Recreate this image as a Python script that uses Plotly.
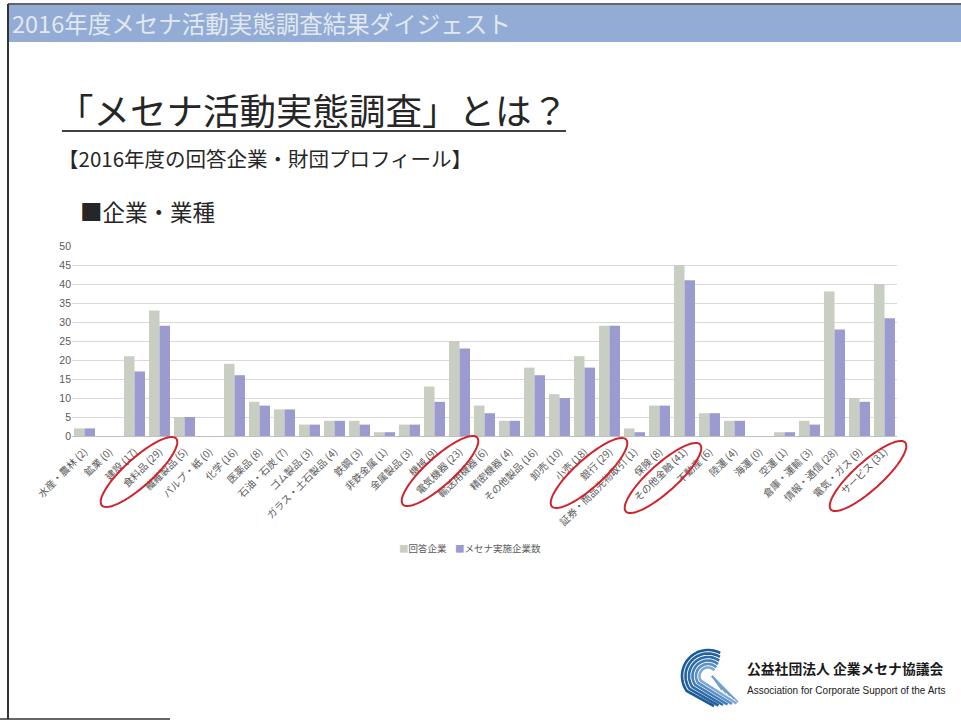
import math
import plotly.graph_objects as go

W, H = 961, 724

categories = [
    "水産・農林 (2)", "鉱業 (0)", "建設 (17)", "食料品 (29)", "繊維製品 (5)", "パルプ・紙 (0)",
    "化学 (16)", "医薬品 (8)", "石油・石炭 (7)", "ゴム製品 (3)", "ガラス・土石製品 (4)", "鉄鋼 (3)",
    "非鉄金属 (1)", "金属製品 (3)", "機械 (9)", "電気機器 (23)", "輸送用機器 (6)", "精密機器 (4)",
    "その他製品 (16)", "卸売 (10)", "小売 (18)", "銀行 (29)", "証券・商品先物取引 (1)", "保険 (8)",
    "その他金融 (41)", "不動産 (6)", "陸運 (4)", "海運 (0)", "空運 (1)", "倉庫・運輸 (3)",
    "情報・通信 (28)", "電気・ガス (9)", "サービス (31)",
]
respondents = [2, 0, 21, 33, 5, 0, 19, 9, 7, 3, 4, 4, 1, 3, 13, 25, 8, 4,
               18, 11, 21, 29, 2, 8, 45, 6, 4, 0, 1, 4, 38, 10, 40]
mecenat = [2, 0, 17, 29, 5, 0, 16, 8, 7, 3, 4, 3, 1, 3, 9, 23, 6, 4,
           16, 10, 18, 29, 1, 8, 41, 6, 4, 0, 1, 3, 28, 9, 31]
series_names = ["回答企業", "メセナ実施企業数"]
series_colors = ["#c8cec1", "#9c9bd0"]
y_ticks = [0, 5, 10, 15, 20, 25, 30, 35, 40, 45, 50]

JP = "Noto Sans CJK JP"


def P(x, y):
    return x / W, 1 - y / H


fig = go.Figure()
fig.add_trace(go.Bar(x=categories, y=respondents, name=series_names[0],
                     marker=dict(color=series_colors[0], line=dict(width=0))))
fig.add_trace(go.Bar(x=categories, y=mecenat, name=series_names[1],
                     marker=dict(color=series_colors[1], line=dict(width=0))))

shapes = []
# header band
x0, y0 = P(8, 5)
x1, y1 = P(961, 42)
shapes.append(dict(type="rect", xref="paper", yref="paper", x0=x0, y0=y1, x1=x1, y1=y0,
                   fillcolor="#92acd6", line=dict(width=0), layer="below"))
# slide border (top, left, bottom)
shapes.append(dict(type="line", xref="paper", yref="paper", x0=P(8, 0)[0], y0=P(0, 4)[1],
                   x1=P(961, 0)[0], y1=P(0, 4)[1], line=dict(color="#333333", width=1.5)))
shapes.append(dict(type="line", xref="paper", yref="paper", x0=P(8, 0)[0], y0=P(0, 4)[1],
                   x1=P(8, 0)[0], y1=P(0, 719)[1], line=dict(color="#333333", width=2)))
shapes.append(dict(type="line", xref="paper", yref="paper", x0=P(0, 0)[0], y0=P(0, 719)[1],
                   x1=P(170, 0)[0], y1=P(0, 719)[1], line=dict(color="#333333", width=1.5)))
# title underline
shapes.append(dict(type="line", xref="paper", yref="paper", x0=P(62, 0)[0], y0=P(0, 131)[1],
                   x1=P(566, 0)[0], y1=P(0, 131)[1], line=dict(color="#404040", width=2)))


def ellipse_path(cx, cy, a, b, ang_deg, n=60):
    t = math.radians(ang_deg)
    pts = []
    for k in range(n + 1):
        u = 2 * math.pi * k / n
        ex, ey = a * math.cos(u), b * math.sin(u)
        px = cx + ex * math.cos(t) + ey * math.sin(t)
        py = cy - ex * math.sin(t) + ey * math.cos(t)
        pts.append(P(px, py))
    return "M " + " L ".join(f"{x:.5f},{y:.5f}" for x, y in pts) + " Z"


for cx, cy in [(139, 472), (440, 471), (589, 473), (663, 478), (868, 476)]:
    shapes.append(dict(type="path", xref="paper", yref="paper",
                       path=ellipse_path(cx, cy, 50, 14, 42),
                       line=dict(color="#d0232c", width=2)))


def logo_curve(cx, cy, r, a0, a1, end, n=30):
    pts = []
    for k in range(n + 1):
        a = math.radians(a0 + (a1 - a0) * k / n)
        pts.append(P(cx + r * math.cos(a), cy - r * math.sin(a)))
    pts.append(P(*end))
    return "M " + " L ".join(f"{x:.5f},{y:.5f}" for x, y in pts)


logo_cols = ["#1c5a9c", "#23629f", "#2d6aa8", "#3f7bb6", "#5a90c6", "#7ea9d6"]
for i, r in enumerate([26, 22.5, 19, 15.5, 12, 8.5]):
    shapes.append(dict(type="path", xref="paper", yref="paper",
                       path=logo_curve(708, 676, r, 62 - i * 4, 215, (714 + i * 4.5, 706 - i * 0.5)),
                       line=dict(color=logo_cols[i], width=2.6)))
for j in range(5):
    shapes.append(dict(type="line", xref="paper", yref="paper",
                       x0=P(712, 0)[0], y0=P(0, 676)[1],
                       x1=P(722 + j * 4, 0)[0], y1=P(0, 690 + j * 3)[1],
                       line=dict(color="#6f9fd0", width=1.5)))

legend_text = "&nbsp;&nbsp;&nbsp;&nbsp;".join(
    f"<span style='color:{c}'>■</span>{n}" for n, c in zip(series_names, series_colors))

annotations = [
    dict(text="2016年度メセナ活動実態調査結果ダイジェスト", x=P(10, 0)[0], y=P(0, 23)[1],
         xanchor="left", yanchor="middle", showarrow=False,
         font=dict(family=JP, size=23.5, color="#e3e8ee")),
    dict(text="「メセナ活動実態調査」とは？", x=P(55, 0)[0], y=P(0, 109)[1],
         xanchor="left", yanchor="middle", showarrow=False,
         font=dict(family=JP, size=36.5, color="#262626")),
    dict(text="【2016年度の回答企業・財団プロフィール】", x=P(56, 0)[0], y=P(0, 158)[1],
         xanchor="left", yanchor="middle", showarrow=False,
         font=dict(family=JP, size=20.5, color="#262626")),
    dict(text="■企業・業種", x=P(78, 0)[0], y=P(0, 211)[1],
         xanchor="left", yanchor="middle", showarrow=False,
         font=dict(family=JP, size=22.5, color="#262626")),
    dict(text=legend_text, x=P(470, 0)[0], y=P(0, 548)[1],
         xanchor="center", yanchor="middle", showarrow=False,
         font=dict(family=JP, size=9.5, color="#595959")),
    dict(text="<b>公益社団法人 企業メセナ協議会</b>", x=P(745, 0)[0], y=P(0, 668)[1],
         xanchor="left", yanchor="middle", showarrow=False,
         font=dict(family=JP, size=13.8, color="#1a1a1a")),
    dict(text="Association for Corporate Support of the Arts", x=P(745, 0)[0], y=P(0, 690)[1],
         xanchor="left", yanchor="middle", showarrow=False,
         font=dict(family="Liberation Sans Narrow, Liberation Sans", size=10, color="#1a1a1a")),
]
for a in annotations:
    a["xref"] = "paper"
    a["yref"] = "paper"

fig.update_layout(
    width=W, height=H,
    margin=dict(l=0, r=0, t=0, b=0),
    paper_bgcolor="white", plot_bgcolor="white",
    barmode="group", bargap=0.16, bargroupgap=0.0,
    font=dict(family=JP, color="#595959"),
    showlegend=False,
    xaxis=dict(domain=[72 / W, 897 / W], tickangle=-45, tickfont=dict(family=JP, size=10, color="#595959"),
               showgrid=False, showline=True, linecolor="#bfbfbf", ticks="", automargin=False,
               ticklabelstandoff=5),
    yaxis=dict(domain=[1 - 436 / H, 1 - 246 / H], range=[0, 50], tickvals=y_ticks,
               tickfont=dict(family="Liberation Sans", size=10.5, color="#595959"),
               showgrid=True, gridcolor="#d9d9d9", gridwidth=1, zeroline=False,
               showline=False, ticks="", automargin=False),
    shapes=shapes,
    annotations=annotations,
)

fig.write_html("out.html", config={"displayModeBar": False},
               post_script="document.body.style.margin='0';document.body.style.overflow='hidden';")
